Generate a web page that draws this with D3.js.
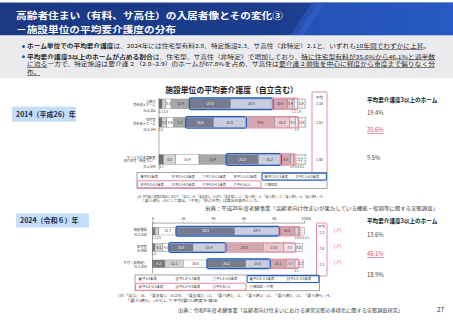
<!DOCTYPE html>
<html><head><meta charset="utf-8">
<script src="https://cdn.jsdelivr.net/npm/d3@7"></script>
<style>
html,body{margin:0;padding:0;background:#fff;}
svg{display:block;font-family:"Noto Sans CJK JP","Noto Sans",sans-serif;}
</style></head><body>
<svg id="c" width="453" height="320"></svg>
<script>
// ---------- DATA ----------
const cats2014 = ["平0.5未満","平0.5~1.0未満","平1.0~1.5未満","平1.5~2.0未満","平2.0~2.5未満","平2.5~3.0未満","平3.0~3.5未満","平3.5~4.0未満","平4.0~4.5未満","平4.5以上","無回答"];
const rows2014 = ["介護付有料老人ホーム","住宅型有料老人ホーム","サービス付き高齢者向け住宅（特定なし）"];
const rowLines2014 = [["介護付","有料老人ホーム"],["住宅型","有料老人ホーム"],["サービス付き高齢者","向け住宅（特定なし）"]];
const n2014 = ["N=2,262","N=2,144","N=1,640"];
const kaigo2014 = [2.1,2.6,3.5,12.9,27.6,28.5,10.5,3.4,1.1,1.9,5.4];
const jutaku2014 = [2.0,3.3,4.6,8.7,18.6,21.8,19.6,10.2,4.1,1.7,5.4];
const sakoju2014 = [3.1,8.2,15.9,18.9,21.5,15.2,6.8,1.9,0.6,0.2,7.7];
const avg2014 = ["2.18","2.52","1.80"];
const share2014 = ["19.4%","35.6%","9.5%"];

const cats2024 = ["平1.0未満","平1.0~1.5未満","平1.5~2.0未満","平2.0~2.5未満","平2.5~3.0未満","平3.0~3.5未満","平3.5~4.0未満","平4.0以上","無回答・不明"];
const rows2024 = ["特定施設","住宅型","サ付（非特定）"];
const n2024 = ["N=1,202","N=960","N=1,053"];
const tokutei2024 = [1.7,2.5,11.7,38.3,29.3,10.5,2.6,0.5,3.1];
const jutaku2024 = [1.6,5.1,4.5,15.5,21.4,25.0,13.6,7.5,4.8];
const sakoju2024 = [8.2,12.1,16.0,25.2,15.8,11.1,5.7,2.1,3.7];
const avg2024 = ["2.3","2.8","2.1"];
const share2024 = ["13.6%","46.1%","18.9%"];
const ticks2024 = [0,20,40,60,80,100];

// ---------- STYLE ----------
const colors2014 = ["#6f6f6f","#d3d3d3","#ffffff","#a8a8a8","#777b8f","#c8cde0","#d7a5ae","#ebc9cf","#f4e1e4","#fbf3f4","url(#hatch)"];
const colors2024 = ["#7a7a7a","#d0d0d0","#ffffff","#777b8f","#c8cde0","#d7a5ae","#ebc9cf","#f6e5e8","url(#hatch)"];
const darkIdx2014 = [0,4], darkIdx2024 = [0,3];
const BLUE = "#1d5cc0", PINK = "#e98aa4", PINKTXT = "#e0407a";

const svg = d3.select("#c");
const defs = svg.append("defs");
const gr = defs.append("linearGradient").attr("id","hdr").attr("x1",0).attr("x2",1);
gr.append("stop").attr("offset","0").attr("stop-color","#1a3883");
gr.append("stop").attr("offset","0.62").attr("stop-color","#1c3d8f");
gr.append("stop").attr("offset","1").attr("stop-color","#2456bb");
const hp = defs.append("pattern").attr("id","hatch").attr("width",1.6).attr("height",1.6).attr("patternUnits","userSpaceOnUse");
hp.append("rect").attr("width",1.6).attr("height",1.6).attr("fill","#fff");
hp.append("rect").attr("width",0.7).attr("height",0.7).attr("fill","#9a9a9a");

// ---------- HEADER ----------
svg.append("rect").attr("x",0).attr("y",2.5).attr("width",453).attr("height",33).attr("fill","url(#hdr)");
svg.append("path").attr("d","M318,2.5 L453,2.5 L453,35.5 L296,35.5 Z").attr("fill","#2a5fcc").attr("opacity",0.55);
svg.append("path").attr("d","M312,2.5 L326,2.5 L304,35.5 L290,35.5 Z").attr("fill","#3c6fd6").attr("opacity",0.35);
svg.append("text").attr("x",16).attr("y",19.2).attr("font-size",8.9).attr("font-weight",700).attr("fill","#fff")
  .attr("textLength",267).attr("lengthAdjust","spacingAndGlyphs").text("高齢者住まい（有料、サ高住）の入居者像とその変化③");
svg.append("text").attr("x",16).attr("y",32.5).attr("font-size",8.9).attr("font-weight",700).attr("fill","#fff")
  .attr("textLength",160).attr("lengthAdjust","spacingAndGlyphs").text("－施設単位の平均要介護度の分布");

// ---------- BULLETS ----------
svg.append("rect").attr("x",0).attr("y",35.5).attr("width",453).attr("height",42.5).attr("fill","#ebebee");
function rich(x, y, parts, fs, len, fill) {
  const t = svg.append("text").attr("x",x).attr("y",y).attr("font-size",fs).attr("fill",fill||"#222");
  parts.forEach(p => {
    const ts = t.append("tspan").text(p.t);
    if (p.b) ts.attr("font-weight",700);
    if (p.u) ts.attr("text-decoration","underline");
  });
  if (len) t.attr("textLength",len).attr("lengthAdjust","spacingAndGlyphs");
  return t;
}
const BFS = 5.4;
[48.4, 58.6].forEach(yy => svg.append("circle").attr("cx",23.5).attr("cy",yy-1.9).attr("r",1.5).attr("fill","#2155b8"));
rich(27,48.4,[{t:"ホーム単位での平均要介護度",b:1},{t:"は、2024年には住宅型有料2.8、特定施設2.3、サ高住（非特定）2.1と、いずれも"},{t:"10年間でわずかに上昇",u:1},{t:"。"}],BFS,403);
rich(27,58.6,[{t:"平均要介護度3以上のホームが占める割合",b:1},{t:"は、住宅型、サ高住（非特定）で増加しており、"},{t:"特に住宅型有料が35.6%から46.1%と過半数",u:1}],BFS,408);
rich(27,66.3,[{t:"に迫る",u:1},{t:"一方で、特定施設は要介護２（2.0~2.9）のホームが67.8%を占め、サ高住は"},{t:"要介護２前後を中心に軽度から重度まで偏りなく分",u:1}],BFS,408);
rich(27,74.0,[{t:"布。",u:1}],BFS,13);

// chart title
svg.append("text").attr("x",231.5).attr("y",92.5).attr("text-anchor","middle").attr("font-size",7.8).attr("font-weight",700)
  .attr("fill","#222").text("施設単位の平均要介護度（自立含む）");

// year labels
function yearBox(x,y,w,h,label){
  svg.append("rect").attr("x",x).attr("y",y).attr("width",w).attr("height",h).attr("fill","#c3def6");
  svg.append("text").attr("x",x+4).attr("y",y+h/2+2.5).attr("font-size",7).attr("font-weight",700).attr("fill","#1a2a50").text(label);
}
yearBox(12,106.7,64,15,"2014（平成26）年");
yearBox(16,213.5,73,14,"2024（令和６）年");

// ---------- BAR BLOCK ----------
function drawBlock(o) {
  const table = o.rows.map((r,i) => { const d = {row:r}; o.keys.forEach((k,j) => d[k] = o.data[i][j]); return d; });
  const series = d3.stack().keys(o.keys)(table);
  const g = svg.append("g");
  series.forEach((s,j) => {
    g.selectAll(null).data(s).join("rect")
      .attr("x", d => o.x(d[0])).attr("width", d => o.x(d[1]) - o.x(d[0]))
      .attr("y", d => o.y(d.data.row) - o.bh/2).attr("height", o.bh)
      .attr("fill", o.colors[j]).attr("stroke","#7a7a7a").attr("stroke-width",0.4);
  });
  o.rows.forEach((r,i) => {
    const cy = o.y(r);
    const below = [];
    series.forEach((s,j) => {
      const d = s[i], v = o.data[i][j];
      const cx = (o.x(d[0]) + o.x(d[1]))/2;
      if (v >= o.th) {
        g.append("text").attr("x",cx).attr("y",cy+o.fs*0.36).attr("text-anchor","middle").attr("font-size",o.fs)
          .attr("fill", o.dark.includes(j) ? "#fff" : "#333").text(v.toFixed(1));
      } else below.push({x:cx, t:v.toFixed(1)});
    });
    below.sort((a,b)=>a.x-b.x);
    for (let k=1;k<below.length;k++) if (below[k].x < below[k-1].x + o.gap) below[k].x = below[k-1].x + o.gap;
    below.forEach(b => g.append("text").attr("x",b.x).attr("y",cy+o.bh/2+o.fs+0.6).attr("text-anchor","middle")
      .attr("font-size",o.fs*0.9).attr("fill","#444").text(b.t));
    const sb = series[o.blue[0]][i], eb = series[o.blue[1]][i];
    g.append("rect").attr("x",o.x(sb[0])-0.6).attr("y",cy-o.bh/2-1).attr("width",o.x(eb[1])-o.x(sb[0])+1.2)
      .attr("height",o.bh+2).attr("rx",1.5).attr("fill","none").attr("stroke",BLUE).attr("stroke-width",1.3);
    const sp = series[o.pink[0]][i], ep = series[o.pink[1]][i];
    g.append("rect").attr("x",o.x(sp[0])-0.3).attr("y",cy-o.bh/2-0.9).attr("width",o.x(ep[1])-o.x(sp[0])+0.6)
      .attr("height",o.bh+1.8).attr("rx",1.2).attr("fill","none").attr("stroke",PINK).attr("stroke-width",1.1);
  });
  const ys = o.rows.map(o.y);
  g.append("line").attr("x1",o.x(0)).attr("x2",o.x(0)).attr("y1",o.baseTop).attr("y2",d3.max(ys)+o.bh/2+o.fs+2)
    .attr("stroke","#555").attr("stroke-width",0.5);
}

// ---------- 2014 ----------
const x2014 = d3.scaleLinear().domain([0,100]).range([159,306]);
const y2014 = d3.scalePoint().domain([rows2014[0], rows2014[1], "·", rows2014[2]]).range([103.8,159.5]);
drawBlock({keys:cats2014, rows:rows2014, data:[kaigo2014,jutaku2014,sakoju2014], x:x2014, y:y2014, bh:9.6,
  colors:colors2014, dark:darkIdx2014, blue:[4,5], pink:[6,9], th:3.3, fs:3.4, gap:5, baseTop:98});
rows2014.forEach((r,i) => {
  const cy = y2014(r);
  const t = svg.append("text").attr("text-anchor","end").attr("font-size",3.2).attr("fill","#333");
  t.append("tspan").attr("x",155.5).attr("y",cy-1).text(rowLines2014[i][0]);
  t.append("tspan").attr("x",155.5).attr("y",cy+2.6).text(rowLines2014[i][1]);
  svg.append("text").attr("x",155.5).attr("y",cy+8.3).attr("text-anchor","end").attr("font-size",3.2).attr("fill","#333").text(n2014[i]);
});
svg.append("rect").attr("x",312).attr("y",92).attr("width",15).attr("height",82).attr("rx",1).attr("fill","none").attr("stroke",PINK).attr("stroke-width",1);
svg.append("text").attr("x",319.5).attr("y",98.6).attr("text-anchor","middle").attr("font-size",3.6).attr("fill","#333").text("平均");
rows2014.forEach((r,i) => svg.append("text").attr("x",319.5).attr("y",y2014(r)+1.3).attr("text-anchor","middle").attr("font-size",3.6).attr("fill","#333").text(avg2014[i]));
svg.append("text").attr("x",367).attr("y",102).attr("font-size",5.6).attr("font-weight",700).attr("fill","#222").text("平均要介護度3以上のホーム");
const shareYs2014 = [115,132,159.7];
rows2014.forEach((r,i) => {
  const t = svg.append("text").attr("x",367).attr("y", shareYs2014[i]).attr("font-size",5.8)
    .attr("fill", i===1?PINKTXT:"#444").text(share2014[i]);
  if (i===1) t.attr("text-decoration","underline");
});

function legend(o){
  svg.append("rect").attr("x",o.x0).attr("y",o.y0).attr("width",o.w).attr("height",o.h).attr("fill","#fff").attr("stroke","#666").attr("stroke-width",0.6);
  o.cats.forEach((c,i) => {
    const row = i < o.perRow ? 0 : 1, col = i < o.perRow ? i : i - o.perRow;
    const lx = o.x0 + 4 + col*o.step, ly = o.y0 + o.h/4 + row*o.h/2;
    svg.append("rect").attr("x",lx).attr("y",ly-o.sq/2).attr("width",o.sq).attr("height",o.sq)
      .attr("fill",o.colors[i]).attr("stroke","#777").attr("stroke-width",0.3);
    svg.append("text").attr("x",lx+o.sq+0.8).attr("y",ly+o.fs*0.36).attr("font-size",o.fs).attr("fill","#333").text(c);
  });
  const bx = o.x0 + 4 + o.blueCol*o.step - 3;
  svg.append("rect").attr("x",bx).attr("y",o.y0+0.6).attr("width",o.x0+o.w-bx-0.6).attr("height",o.h/2-1)
    .attr("rx",1).attr("fill","none").attr("stroke",BLUE).attr("stroke-width",1.1);
  const px = o.x0 + 4 + o.pinkCols*o.step - 4;
  svg.append("rect").attr("x",o.x0+0.6).attr("y",o.y0+o.h/2+0.3).attr("width",px-o.x0-0.6).attr("height",o.h/2-0.9)
    .attr("rx",1).attr("fill","none").attr("stroke",PINK).attr("stroke-width",1.1);
}
legend({cats:cats2014, colors:colors2014, x0:137, y0:172.5, w:190, h:16, perRow:6, step:31, sq:2.2, fs:3.1, blueCol:4, pinkCols:4});

svg.append("text").attr("x",137).attr("y",197.5).attr("font-size",2.9).attr("fill","#444").attr("textLength",188).attr("lengthAdjust","spacingAndGlyphs")
  .text("(注) 平均要介護度の算出にあたり、「自立」=0、「要支援1」=0.375、「要支援2」=1、「要介護1」=1、「要介護2」=2、「要介護3」=3、「要介護4」=4、");
svg.append("text").attr("x",141).attr("y",201.6).attr("font-size",2.9).attr("fill","#444").attr("textLength",120).attr("lengthAdjust","spacingAndGlyphs")
  .text("「要介護5」=5として算出。「不明」「申請中等」は算出対象外とした。");
svg.append("text").attr("x",205).attr("y",209.8).attr("font-size",5).attr("fill","#333").attr("textLength",233).attr("lengthAdjust","spacingAndGlyphs")
  .text("出典：平成26年度老健事業「高齢者向け住まいが果たしている機能・役割等に関する実態調査」");

// ---------- 2024 ----------
const x2024 = d3.scaleLinear().domain([0,100]).range([152.5,304]);
const y2024 = d3.scalePoint().domain(rows2024).range([231.2,263.8]);
const ax = svg.append("g").attr("transform","translate(0,222.6)")
  .call(d3.axisTop(x2024).tickValues(ticks2024).tickSize(1.2).tickPadding(1).tickFormat(d3.format("d")));
ax.select(".domain").attr("stroke","#555").attr("stroke-width",0.5);
ax.selectAll(".tick line").attr("stroke","#555").attr("stroke-width",0.4);
ax.selectAll("text").attr("font-size",3.6).attr("fill","#333").attr("font-family","Noto Sans CJK JP");
svg.append("text").attr("x",x2024(100)+3.5).attr("y",220.4).attr("font-size",3.6).attr("fill","#333").text("%");
drawBlock({keys:cats2024, rows:rows2024, data:[tokutei2024,jutaku2024,sakoju2024], x:x2024, y:y2024, bh:7.6,
  colors:colors2024, dark:darkIdx2024, blue:[3,4], pink:[5,7], th:3.3, fs:3.4, gap:5, baseTop:222.6});
rows2024.forEach((r,i) => {
  const cy = y2024(r);
  svg.append("text").attr("x",147).attr("y",cy+0.2).attr("text-anchor","end").attr("font-size",3.4).attr("fill","#333").text(r);
  svg.append("text").attr("x",147).attr("y",cy+4.4).attr("text-anchor","end").attr("font-size",3.4).attr("fill","#333").text(n2024[i]);
});
svg.append("rect").attr("x",316.5).attr("y",223).attr("width",10.5).attr("height",53).attr("rx",1).attr("fill","none").attr("stroke",PINK).attr("stroke-width",1);
svg.append("text").attr("x",321.7).attr("y",228).attr("text-anchor","middle").attr("font-size",3.4).attr("fill","#333").text("平均");
rows2024.forEach((r,i) => {
  svg.append("text").attr("x",321.7).attr("y",y2024(r)+2.6).attr("text-anchor","middle").attr("font-size",3.6).attr("fill","#333").text(avg2024[i]);
  svg.append("text").attr("x",337.5).attr("y",y2024(r)+0.6).attr("text-anchor","middle").attr("font-size",4.4).attr("fill",PINKTXT).text("(↗)");
});
svg.append("text").attr("x",367).attr("y",223.2).attr("font-size",5.6).attr("font-weight",700).attr("fill","#222").text("平均要介護度3以上のホーム");
const shareYs2024 = [236.5,256,277];
rows2024.forEach((r,i) => {
  const t = svg.append("text").attr("x",367).attr("y", shareYs2024[i]).attr("font-size",5.8)
    .attr("fill", i===1?PINKTXT:"#444").text(share2024[i]);
  if (i===1) t.attr("text-decoration","underline");
});
legend({cats:cats2024, colors:colors2024, x0:135, y0:275, w:184.5, h:15.8, perRow:5, step:37, sq:2.4, fs:3.3, blueCol:3, pinkCols:3});

svg.append("text").attr("x",118).attr("y",297.3).attr("font-size",3.4).attr("fill","#444").attr("textLength",215).attr("lengthAdjust","spacingAndGlyphs")
  .text("(注)「自立」=0、「要支援1」=0.375、「要支援2」=1、「要介護1」=1、「要介護2」=2、「要介護3」=3、「要介護4」=4、");
svg.append("text").attr("x",125).attr("y",302.4).attr("font-size",3.4).attr("fill","#444").attr("textLength",93).attr("lengthAdjust","spacingAndGlyphs")
  .text("「要介護5」=5として平均要介護度を算出");
svg.append("text").attr("x",178).attr("y",311.8).attr("font-size",4.9).attr("fill","#333").attr("textLength",225).attr("lengthAdjust","spacingAndGlyphs")
  .text("出典：令和6年度老健事業「高齢者向け住まいにおける運営実態の多様化に関する実態調査研究」");
svg.append("text").attr("x",437).attr("y",311.5).attr("font-size",6.5).attr("fill","#333").text("27");
</script>
</body></html>
